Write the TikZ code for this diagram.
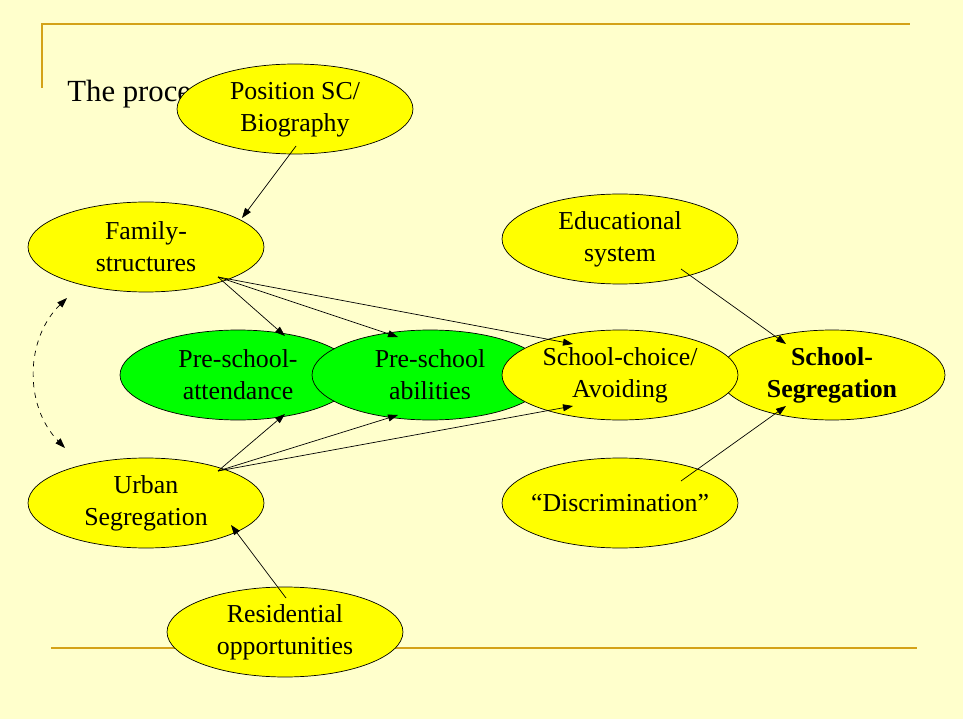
\documentclass[tikz,border=0pt]{standalone}
\usepackage{fontspec}
\setmainfont{Liberation Serif}
\usetikzlibrary{shapes.geometric, arrows.meta, calc}
\definecolor{slidebg}{RGB}{255,255,204}
\definecolor{gold}{RGB}{212,162,24}
\definecolor{bubbleyellow}{RGB}{255,255,0}
\definecolor{bubblegreen}{RGB}{0,255,0}
\tikzset{bubble/.style={ellipse,draw,thin,fill=bubbleyellow,minimum width=4.72cm,minimum height=1.8cm,
                        inner sep=0pt,align=center,font=\fontsize{14.7}{18.2}\selectfont},
         greenbubble/.style={bubble,fill=bubblegreen},
         rule/.style={draw=gold,line width=1.1pt},
         >={Triangle[length=2mm,width=1.4mm]},
        }

\begin{document}
\begin{tikzpicture}[x=0.02cm,y=-0.02cm]
        \fill[slidebg](0,0)rectangle(963,719);
        \useasboundingbox(0,0)rectangle(963,719);
        \draw[rule](42,88)--(42,24)--(910,24);
        \draw[rule](51,648)--(917,648);
        \node[anchor=base west,inner sep=0pt,font=\fontsize{17.5}{21}\selectfont](title)at(67,102){The process};
        \node[bubble,text depth=2pt](pos)at(295,109){Position SC/\\Biography};
        \node[bubble](fam)at(146,247){Family-\\structures};
        \node[bubble](edu)at(620,239){Educational\\system};
        \node[greenbubble](att)at(238,375){Pre-school-\\attendance};
        \node[greenbubble](abil)at(430,375){Pre-school\\abilities};
        \node[bubble,minimum width=4.52cm](seg)at(832,375){\textbf{School-}\\\textbf{Segregation}};
        \node[bubble](choice)at(620,375){School-choice/\\Avoiding};
        \node[bubble](disc)at(620,503){\makebox[3cm]{“Discrimination”}};
        \node[bubble](urb)at(146,503){Urban\\Segregation};
        \node[bubble](res)at(285,632){Residential\\opportunities};
        \coordinate(famout)at($(fam)+(72,30)$);
        \coordinate(urbout)at($(urb)+(72,-32)$);
        \draw[->]($(pos)+(1,37)$)--($(fam)+(96,-29)$);
        \draw[->](famout)--($(att)+(47,-39)$);
        \draw[->](famout)--($(abil)+(-32,-38)$);
        \draw[->](famout)--($(choice)+(-47,-31)$);
        \draw[->](urbout)--($(att)+(47,39)$);
        \draw[->](urbout)--($(abil)+(-32,40)$);
        \draw[->](urbout)--($(choice)+(-47,31)$);
        \draw[->]($(edu)+(61,30)$)--($(seg)+(-46,-31)$);
        \draw[->]($(disc)+(61,-22)$)--($(seg)+(-46,31)$);
        \draw[->]($(res)+(1,-34)$)--($(urb)+(85,22)$);
        \draw[<->,dashed]($(fam)+(-79,51)$)to[bend right=45]($(urb)+(-81,-55)$);
    \end{tikzpicture}
\end{document}
